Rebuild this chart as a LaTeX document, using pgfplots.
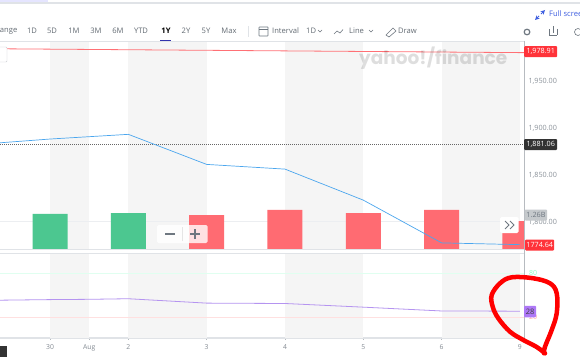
\documentclass[border=0pt]{standalone}
\usepackage{pgfplots}
\pgfplotsset{compat=1.18}
\usepackage{fontspec}
\setmainfont{Open Sans}
\newfontfamily\wm{Poppins}
\usetikzlibrary{calc}
\definecolor{band}{HTML}{F5F5F5}
\definecolor{gtxt}{HTML}{6E7780}
\definecolor{upc}{HTML}{4CC790}
\definecolor{dnc}{HTML}{FF6B72}
\definecolor{tagred}{HTML}{FF333A}
\definecolor{lin}{HTML}{4BA6EE}
\definecolor{rsi}{HTML}{B594F0}
\definecolor{rsibox}{HTML}{AE78F7}
\definecolor{axl}{HTML}{E0E3E7}
\definecolor{bluet}{HTML}{3F5FE0}
\pgfplotsset{panel/.style={scale only axis,width=524pt,xmin=-0.6386,xmax=6.052,
  at={(0pt,108pt)},anchor=south west,height=208pt,clip=true,
  axis line style={draw=none},xtick=\empty,ytick=\empty}}
\begin{document}
\begin{tikzpicture}[x=1pt,y=1pt]
\useasboundingbox (0,0) rectangle (580,357);
\clip (0,0) rectangle (580,357);
\fill[white] (0,0) rectangle (580,357);
% volume + bands
\begin{axis}[panel,ymin=0,ymax=9.36]
\addplot[fill=band,draw=none] coordinates {(0,0)(0,9.36)(0.5,9.36)(0.5,0)} -- cycle;
\addplot[fill=band,draw=none] coordinates {(1,0)(1,9.36)(2,9.36)(2,0)} -- cycle;
\addplot[fill=band,draw=none] coordinates {(3,0)(3,9.36)(4,9.36)(4,0)} -- cycle;
\addplot[fill=band,draw=none] coordinates {(5,0)(5,9.36)(6,9.36)(6,0)} -- cycle;
\addplot[axl!60!white,line width=.5pt] coordinates {(-0.6386,1.26)(6.052,1.26)};
\addplot[ybar,bar width=35pt,fill=upc,draw=none,bar shift=0pt] coordinates {(0,1.58)(1,1.62)};
\addplot[ybar,bar width=35pt,fill=dnc,draw=none,bar shift=0pt] coordinates {(2,1.53)(3,1.76)(4,1.62)(5,1.76)(6,1.26)};
\end{axis}
% price
\begin{axis}[panel,ymin=1770,ymax=1991.3,ytick={1800,1850,1900,1950},
  ytick pos=right,yticklabel pos=right,major tick length=0pt,
  yticklabel style={text=gtxt!80!white,font=\fontsize{7.2}{8}\selectfont,xshift=1pt,yshift=-1.5pt,
    /pgf/number format/assume math mode=true,/pgf/number format/fixed,/pgf/number format/fixed zerofill,
    /pgf/number format/precision=2,/pgf/number format/1000 sep={,}},
  clip=false]
\addplot[black!60,dash pattern=on 1pt off 1pt,line width=.4pt] coordinates {(-0.6386,1881.06)(6.052,1881.06)};
\addplot[tagred!70!white,line width=.8pt] coordinates {(-0.6,1983.0)(6.052,1978.91)};
\addplot[lin,line width=.7pt] coordinates {(-0.6386,1883)(0,1887)(1,1892)(2,1860)(3,1855)(4,1822)(5,1776.5)(6,1774.64)};
\end{axis}
% RSI
\begin{axis}[panel,at={(0pt,19pt)},height=85pt,ymin=-8.6,ymax=107.4,
  axis x line=bottom,axis y line=none,
  axis line style={draw=axl,line width=1.2pt,-},
  xtick={0,0.5,1,2,3,4,5,6},xticklabels={30,Aug,2,3,4,5,6,9},
  major tick length=3pt,tick style={draw=gtxt!50!white,line width=.4pt},
  xticklabel style={text=gtxt!85!white,font=\fontsize{6.8}{8}\selectfont,yshift=-1.5pt}]
\addplot[fill=band,draw=none] coordinates {(0,-8.6)(0,107.4)(0.5,107.4)(0.5,-8.6)} -- cycle;
\addplot[fill=band,draw=none] coordinates {(1,-8.6)(1,107.4)(2,107.4)(2,-8.6)} -- cycle;
\addplot[fill=band,draw=none] coordinates {(3,-8.6)(3,107.4)(4,107.4)(4,-8.6)} -- cycle;
\addplot[fill=band,draw=none] coordinates {(5,-8.6)(5,107.4)(6,107.4)(6,-8.6)} -- cycle;
\addplot[green!50!cyan!12!white,line width=.5pt] coordinates {(-0.6386,80)(6.052,80)};
\addplot[red!12!white,line width=.5pt] coordinates {(-0.6386,20)(6.052,20)};
\addplot[rsi,line width=.8pt] coordinates {(-0.6386,43)(0,43.8)(0.5,44.2)(1,45)(2,39)(3,38.5)(4,33.5)(5,28.3)(6,28)};
\end{axis}
% frame
\draw[axl,line width=.8pt] (0,316) -- (524,316);
\draw[axl,line width=.8pt] (0,108) -- (524,108);
\draw[axl,line width=.5pt] (0,104) -- (524,104);
\draw[gtxt!50!white,line width=.5pt] (524.5,316) -- (524.5,19);
% top strip
\fill[axl] (0,353) rectangle (580,354.5);
\fill[blue!10!white] (0,354.5) rectangle (48,357);
% toolbar
\tikzset{tb/.style={text=gtxt!90!black,font=\fontsize{7.6}{9}\selectfont,inner sep=0pt}}
\node[tb,anchor=east] at (17.5,326) {ange};
\foreach \x/\t in {32/1D,52/5D,74/1M,96/3M,118/6M,141/YTD,186/2Y,206/5Y,229/Max}
  \node[tb] at (\x,326) {\t};
\node[tb,text=black,font=\fontsize{7.6}{9}\bfseries\selectfont] at (166,326) {1Y};
\fill[blue!60!black!80!white] (160,315.5) rectangle (171,317);
\draw[axl,line width=.5pt] (248.5,320) -- (248.5,331);
\draw[gtxt,line width=.7pt,rounded corners=.5pt] (259,321) rectangle (268,330);
\draw[gtxt,line width=.6pt] (259,328) -- (268,328);
\node[tb,anchor=west] at (272,326) {Interval};
\node[tb,anchor=west] at (306,326) {1D};
\draw[gtxt,line width=.4pt] (318,327) -- (320,325) -- (322,327);
\draw[gtxt,line width=.6pt] (334,323) -- (337,326) -- (340,324) -- (343,327.5);
\node[tb,anchor=west] at (349,326) {Line};
\draw[gtxt,line width=.4pt] (369,327) -- (371,325) -- (373,327);
\draw[gtxt,line width=.6pt] (386,322) -- (393,329) -- (396,326) -- (389,320) -- cycle;
\node[tb,anchor=west] at (398,326) {Draw};
\node[inner sep=0pt,anchor=west,text=bluet,font=\fontsize{7.6}{9}\selectfont] at (549,343) {Full screen};
\draw[bluet,line width=1pt,->,>=stealth] (539,341) -- (535,337);
\draw[bluet,line width=1pt,->,>=stealth] (541,343) -- (545,347);
\draw[gtxt,line width=1.2pt] (527,325) circle (2.8);
\draw[gtxt,line width=.6pt] (549,322) -- (549,328) (557,328) -- (557,322) (549,322) -- (557,322);
\draw[gtxt,line width=.6pt] (553,324) -- (553,331);
\draw[gtxt,line width=.6pt] (578,325) circle (3.5);
% left handle
\fill[white,rounded corners=1pt] (-3,295) rectangle (7,310);
\draw[gtxt!35!white,rounded corners=1pt,line width=.4pt] (-3,295) rectangle (7,310);
% watermark
\node[inner sep=0pt,anchor=west,text=black,opacity=.13,font=\wm\fontsize{18.5}{20}\bfseries\selectfont] at (359,299) {yahoo!/finance};
% tags
\tikzset{tag/.style={inner sep=0pt,minimum height=11pt,rounded corners=1pt,text=white,font=\fontsize{7.2}{8}\selectfont}}
\node[tag,fill=tagred,minimum width=33pt,anchor=west] at (524,305.3) {1,978.91};
\node[tag,fill=black!80,minimum width=33pt,anchor=west] at (524,212.5) {1,881.06};
\node[tag,fill=tagred,minimum width=29pt,anchor=west] at (525,112) {1774.64};
\node[tag,fill=gtxt!40!white,text=gtxt,minimum width=22.5pt,anchor=west] at (524.5,142) {1.26B};
% overlay buttons
\fill[white,opacity=.8,rounded corners=1.5pt] (157,114) rectangle (207.5,132);
\draw[black!10,line width=.4pt] (182,116) -- (182,130);
\draw[gtxt,line width=1.4pt] (165,123) -- (175,123);
\draw[gtxt,line width=1.4pt] (190,123) -- (200,123) (195,118) -- (195,128);
\fill[white,rounded corners=1.5pt] (500,124) rectangle (518.5,140);
\draw[gtxt,line width=1pt] (505,136) -- (509,132) -- (505,128) (510,136) -- (514,132) -- (510,128);
% rsi labels
\node[inner sep=0pt,text=green!50!cyan!45!white,font=\fontsize{7}{8}\selectfont] at (533,84) {80};
\node[inner sep=0pt,text=red!35!white,font=\fontsize{7}{8}\selectfont] at (533,40) {20};
\node[tag,fill=rsibox,text=black!75,minimum width=12pt,minimum height=11.5pt,font=\fontsize{7.5}{8}\selectfont,anchor=west] at (524,45.5) {28};
% bottom-left block
\fill[black!80] (0,0) rectangle (7,11);
% red scribble
\draw[red,line width=4.5pt,line cap=round,line join=round,smooth,tension=.6] plot coordinates {
 (545,3.7) (536.7,10) (523.3,17) (510,25.3) (498.3,38.7) (492.7,50.3) (491.7,62) (500,73.7) (511.7,79.7) (533.3,78.7) (550,73.7) (556.7,63.7) (556.7,43.7) (551.7,27) (545,10.3) (544,3.7)};
\end{tikzpicture}
\end{document}
